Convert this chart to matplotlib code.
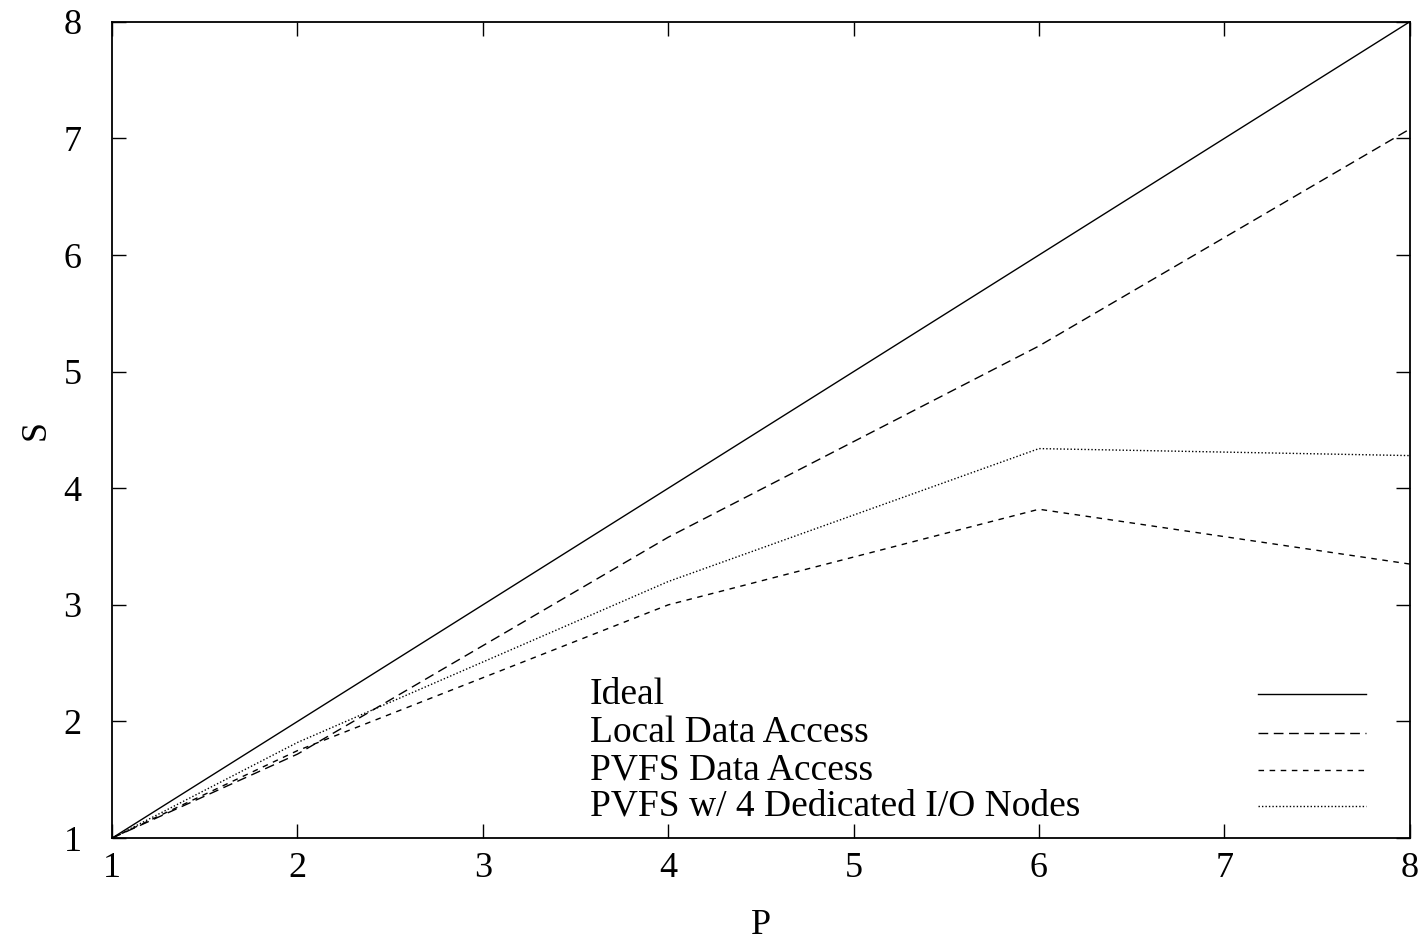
import matplotlib.pyplot as plt

plt.rcParams['font.family'] = ['Liberation Serif', 'DejaVu Serif']

## speedup data
P = [1, 2, 4, 6, 8]
ideal = [1, 2, 4, 6, 8]
local = [1, 1.72, 3.58, 5.22, 7.08]
pvfs = [1, 1.75, 3.0, 3.82, 3.35]
pvfs_io = [1, 1.82, 3.2, 4.34, 4.28]

labels = ['Ideal', 'Local Data Access', 'PVFS Data Access',
          'PVFS w/ 4 Dedicated I/O Nodes']
styles = ['-', (0, (7, 4)), (0, (4, 4)), (0, (1, 1.5))]

fig = plt.figure(figsize=(14.24, 9.47), dpi=100)
ax = fig.add_axes([0.0787, 0.115, 0.9113, 0.862])

series = [ideal, local, pvfs, pvfs_io]
for y, ls in zip(series, styles):
    ax.plot(P, y, color='black', linestyle=ls, linewidth=1)

ax.set_xlim(1, 8)
ax.set_ylim(1, 8)
ax.tick_params(direction='in', top=True, right=True, length=10, width=1,
               labelsize=26, pad=10)
ax.tick_params(axis='y', pad=22)
for s in ax.spines.values():
    s.set_linewidth(1.3)
ax.set_xlabel('P', fontsize=26, labelpad=17)
ax.set_ylabel('S', fontsize=26, labelpad=8)

## gnuplot-like key: text left, sample on the right
rows = [0.176, 0.129, 0.083, 0.039]
for lab, ls, ry in zip(labels, styles, rows):
    ax.text(0.368, ry, lab, transform=ax.transAxes, fontsize=27,
            va='center', ha='left')
    ax.plot([0.883, 0.966], [ry, ry], transform=ax.transAxes,
            color='black', linestyle=ls, linewidth=1)

plt.savefig('out.png', dpi=100)
